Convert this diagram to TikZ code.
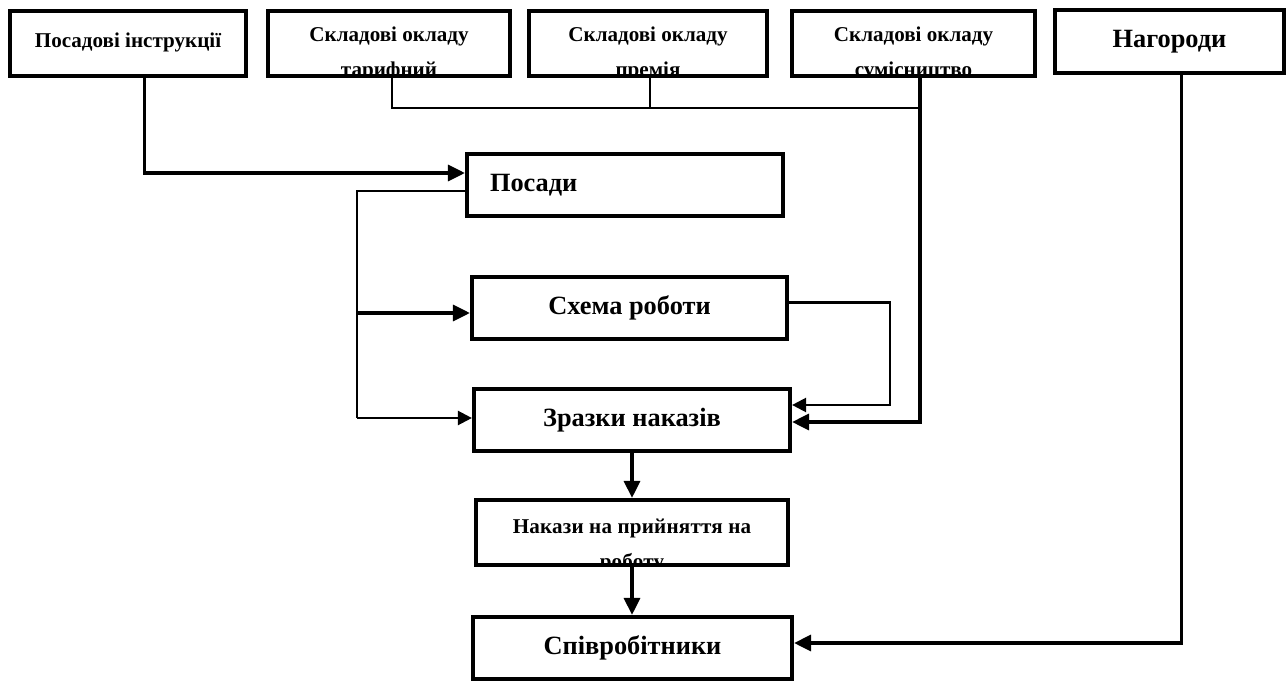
\documentclass[tikz,border=0pt]{standalone}
\usepackage{fontspec}
\setmainfont{Liberation Serif}
\usetikzlibrary{positioning, calc, arrows.meta}

\begin{document}
\begin{tikzpicture}[x=0.02cm, y=-0.02cm, thick]
        % Define block styles
        \tikzstyle{block} = [rectangle, draw, line width=2.4pt, inner sep=0pt, text centered, font=\bfseries\fontsize{12}{14}\selectfont]
        \tikzstyle{midblock} = [block, minimum height=1.24cm, font=\bfseries\fontsize{15}{17}\selectfont]
        \tikzstyle{cliptext} = [anchor=north, inner sep=0pt, minimum width=0pt, minimum height=0pt, align=center, font=\bfseries\fontsize{12}{14}\selectfont]
        \tikzstyle{heavy} = [line width=1.8pt, -{Triangle[length=0.34cm, width=0.32cm]}]
        \tikzstyle{medium} = [line width=1.3pt, -{Triangle[length=0.28cm, width=0.28cm]}]
        \tikzstyle{light} = [line width=0.6pt]

        \fill [white] (0,0) rectangle (1287,682);
        \useasboundingbox (0,0) rectangle (1287,682);

        % Place top nodes
        \node [block, minimum width=4.72cm, minimum height=1.3cm] (instr) at (128,43.5) {\raisebox{0.12cm}{Посадові інструкції}};
        \node [block, minimum width=4.84cm, minimum height=1.3cm, path picture={\node [cliptext] at ([yshift=-0.28cm]path picture bounding box.north) {Складові окладу\\[6pt]тарифний};}] (tarif) at (389,43.5) {};
        \node [block, minimum width=4.76cm, minimum height=1.3cm, path picture={\node [cliptext] at ([yshift=-0.28cm]path picture bounding box.north) {Складові окладу\\[6pt]премія};}] (premia) at (648,43.5) {};
        \node [block, minimum width=4.86cm, minimum height=1.3cm, path picture={\node [cliptext] at ([yshift=-0.28cm]path picture bounding box.north) {Складові окладу\\[6pt]сумісництво};}] (sumis) at (913.5,43.5) {};
        \node [block, minimum width=4.58cm, minimum height=1.26cm, font=\bfseries\fontsize{15}{17}\selectfont] (nagor) at (1169.5,41.5) {\raisebox{0.06cm}{Нагороди}};

        % Place main nodes
        \node [midblock, minimum width=6.32cm, align=left, text width=5.4cm, inner xsep=0.46cm] (posady) at (625,185) {Посади};
        \node [midblock, minimum width=6.3cm] (schema) at (629.5,308) {Схема роботи};
        \node [midblock, minimum width=6.32cm] (zrazky) at (632,420) {Зразки наказів};
        \node [block, minimum width=6.24cm, minimum height=1.3cm, path picture={\node [cliptext, font=\bfseries\fontsize{12}{14}\selectfont\addfontfeature{LetterSpace=1}] at ([yshift=-0.34cm]path picture bounding box.north) {Накази на прийняття на\\[6pt]роботу};}] (nakazy) at (632,532.5) {};
        \node [midblock, minimum width=6.38cm] (spivr) at (632.5,648) {Співробітники};

        % Free ends of the side lines
        \coordinate (bus) at (920,108);
        \coordinate (fork) at (357,313);
        \coordinate (elbow) at (357,418);
        \coordinate (loop) at (890,405);

        % Draw connections as arrows
        \draw [heavy] ([xshift=0.33cm]instr.south) |- ([yshift=0.24cm]posady.west);
        \draw [light] ([xshift=0.06cm]tarif.south) |- (bus);
        \draw [light] ([xshift=0.04cm]premia.south) |- (bus);
        \draw [heavy] ([xshift=0.13cm]sumis.south) |- ([yshift=-0.04cm]zrazky.east);
        \draw [line width=1pt] ([yshift=-0.12cm]posady.west) -| (elbow);
        \draw [heavy] (fork) -- (fork -| schema.west);
        \draw [medium] (elbow) -- (elbow -| zrazky.west);
        \draw [medium] ([yshift=0.11cm]schema.east) -| (loop) -- (loop -| zrazky.east);
        \draw [heavy] (zrazky.south) -- (zrazky.south |- nakazy.north);
        \draw [heavy] (nakazy.south) -- (nakazy.south |- spivr.north);
        \draw [heavy] ([xshift=0.24cm]nagor.south) |- ([yshift=0.1cm]spivr.east);

\end{tikzpicture}
\end{document}
